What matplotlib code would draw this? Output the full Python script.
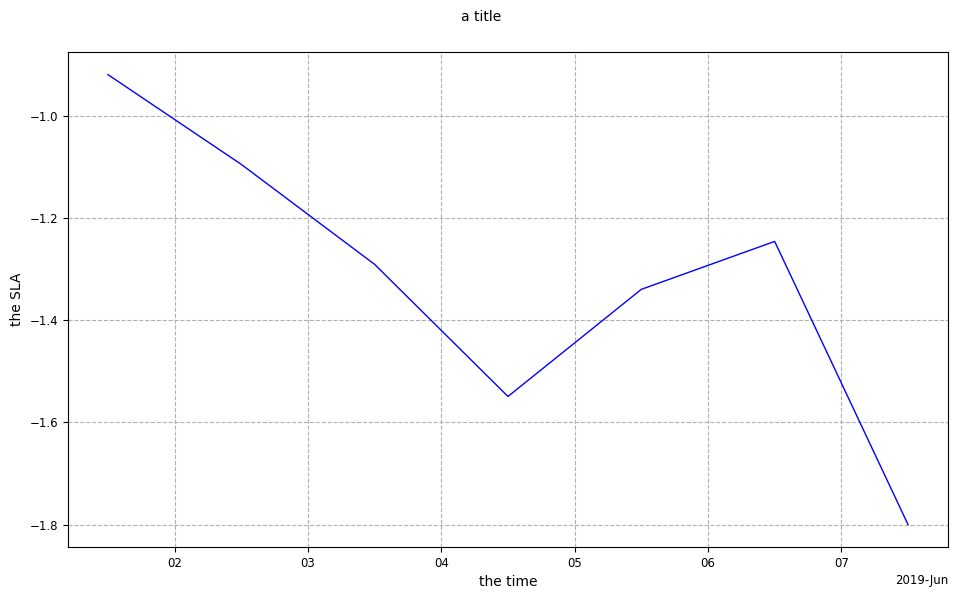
import matplotlib
matplotlib.use("Agg")
import matplotlib.pyplot as plt
import matplotlib.dates as mdates
import pandas as pd

# values
times = pd.to_datetime([
    "2019-06-01 12:00", "2019-06-02 12:00", "2019-06-03 12:00",
    "2019-06-04 12:00", "2019-06-05 12:00", "2019-06-06 12:00",
    "2019-06-07 12:00",
])
sla = [-0.918, -1.094, -1.290, -1.549, -1.339, -1.245, -1.800]

fig, ax = plt.subplots(figsize=(9.57, 5.99), dpi=100)
fig.subplots_adjust(left=0.071, right=0.9906, bottom=0.0868, top=0.913)

ax.plot(times, sla, color="blue", linewidth=1)

locator = mdates.AutoDateLocator()
ax.xaxis.set_major_locator(locator)
ax.xaxis.set_major_formatter(mdates.ConciseDateFormatter(locator))
ax.tick_params(labelsize=8.5)
ax.xaxis.get_offset_text().set_fontsize(8.5)

ax.grid(True, linestyle="--", color="#b0b0b0")
ax.set_xlabel("the time", fontsize=10)
ax.set_ylabel("the SLA", fontsize=10)
fig.suptitle("a title", fontsize=10, x=0.503, y=0.984)

fig.savefig("out.png")
